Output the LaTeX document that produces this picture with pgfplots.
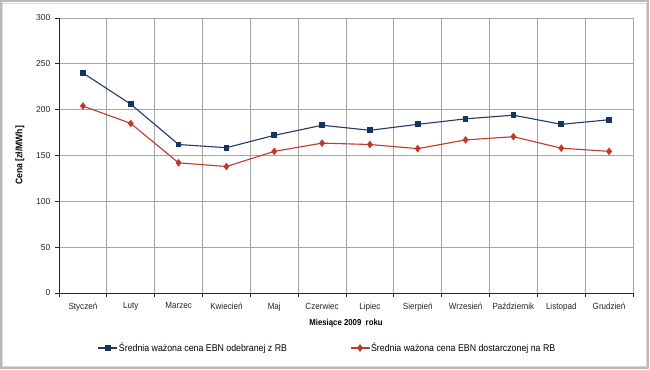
\documentclass[border=0pt]{standalone}
\usepackage{fontspec}
\setmainfont[FakeStretch=0.9]{Liberation Sans}
\newfontfamily\digitfont{Liberation Sans}
\usepackage{pgfplots}
\pgfplotsset{compat=1.18}
\definecolor{navy}{HTML}{1F3A6B}
\definecolor{navym}{HTML}{17335F}
\definecolor{redl}{HTML}{C0392F}
\definecolor{gridc}{HTML}{A6A6A6}
\begin{document}
\begin{tikzpicture}[x=1bp,y=1bp]
% background frame (pixel (px,py) -> (px-59, 293-py))
\path[use as bounding box] (-59,-76) rectangle (591,293);
\fill[white] (-59,-76) rectangle (591,293);
\draw[gray!55, line width=2bp] (-58,-74.5) rectangle (589,292);
\draw[gray!30, line width=1bp] (-56,-73) rectangle (587,290);
\begin{axis}[
  at={(0,0)}, anchor=south west,
  scale only axis, width=574bp, height=275bp,
  xmin=-0.5, xmax=11.5, ymin=0, ymax=300,
  xtick={0,...,11},
  xticklabels={Styczeń,Luty,Marzec,Kwiecień,Maj,Czerwiec,Lipiec,Sierpień,Wrzesień,Październik,Listopad,Grudzień},
  minor xtick={-0.5,0.5,...,11.5},
  xminorgrids, minor grid style={gridc, line width=0.8bp},
  major x tick style={draw=none},
  ytick={0,50,...,300},
  ymajorgrids, major grid style={gridc, line width=0.8bp},
  axis x line*=bottom, axis y line*=left,
  axis line style={black!85, line width=0.8bp},
  tick align=outside,
  major tick length=4bp, minor tick length=4bp,
  tick style={black!85, line width=0.8bp},
  /pgf/number format/assume math mode=true,
  xticklabel style={font=\fontsize{9}{10}\selectfont, text=black!85, yshift=-2bp},
  yticklabel style={font=\digitfont\fontsize{8.6}{10}\selectfont, text=black!85, xshift=-1bp},
  xlabel={\bfseries Miesiące 2009\ \ roku},
  xlabel style={font=\fontsize{8.7}{10}\selectfont, yshift=-1bp},
  ylabel={\bfseries Cena [zł/MWh]},
  ylabel style={font=\fontsize{9.6}{10}\selectfont, yshift=5bp},
  legend style={at={(0.467,-0.2)}, anchor=center, draw=none, fill=none,
    font=\fontsize{9.8}{11}\selectfont, legend columns=2,
    /tikz/every even column/.append style={column sep=62bp},
    inner sep=0pt, nodes={inner xsep=1bp}},
  legend image code/.code={
    \draw[#1] (0bp,0bp) -- (19bp,0bp);
    \draw[#1, mark repeat=1] plot coordinates {(9.5bp,0bp)};
  },
]
\addplot[navy, line width=1.1bp, mark=square*, mark size=2.3bp, mark options={fill=navym, draw=navym, solid}]
  coordinates {(0,240) (1,206) (2,162) (3,158.5) (4,172) (5,183) (6,177.5) (7,184) (8,190) (9,194) (10,184) (11,189)};
\addlegendentry{Średnia ważona cena EBN odebranej z RB}
\addplot[redl, line width=1.1bp, mark=diamond*, mark size=3bp, mark options={fill=redl, draw=redl, solid}]
  coordinates {(0,204) (1,185) (2,142) (3,138) (4,154.5) (5,163.5) (6,162) (7,157.5) (8,167) (9,170.5) (10,158) (11,154.5)};
\addlegendentry{Średnia ważona cena EBN dostarczonej na RB}
\end{axis}
\end{tikzpicture}
\end{document}
